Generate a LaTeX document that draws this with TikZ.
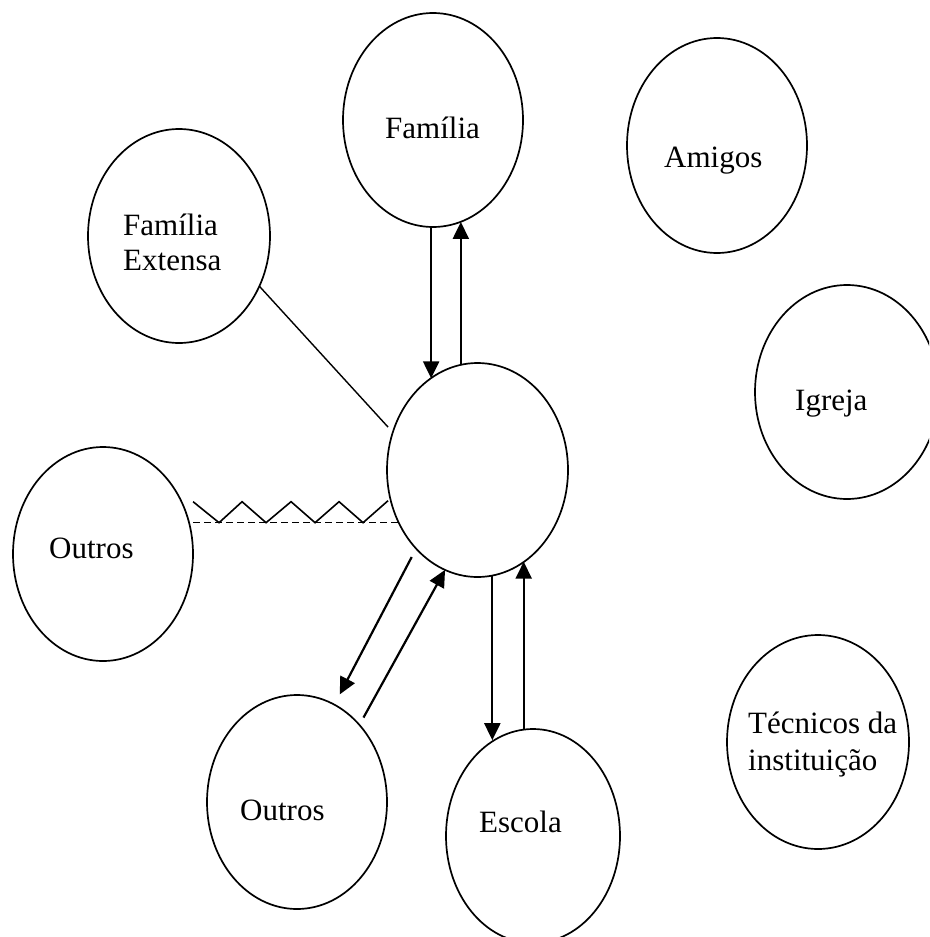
\documentclass[tikz,border=0pt]{standalone}
\usepackage{fontspec}
\setmainfont{Liberation Serif}
\usetikzlibrary{arrows.meta,calc,shapes.geometric}
\tikzset{
  circ/.style={draw, ellipse, line width=1.7pt, inner sep=0pt, outer sep=0pt},
  lbl/.style={anchor=base west, inner sep=0pt, font=\fontsize{31}{36}\selectfont},
  arr/.style={line width=2.2pt, -{Triangle[length=17pt,width=16pt]}},
  plain/.style={line width=1.4pt},
}
\begin{document}
\begin{tikzpicture}[x=1pt,y=-1pt]
\clip (0,0) rectangle (929,937);
\fill[white] (0,0) rectangle (929,937);
% ellipses
\node[circ, minimum width=180pt, minimum height=214pt] (fam) at (433,120) {};
\node[circ, minimum width=180pt, minimum height=215pt] (ami) at (717,145.5) {};
\node[circ, minimum width=182pt, minimum height=214pt] (ext) at (179,236) {};
\node[circ, minimum width=184pt, minimum height=214pt] (igr) at (847,392) {};
\node[circ, minimum width=181pt, minimum height=214pt] (ctr) at (477.5,470) {};
\node[circ, minimum width=180pt, minimum height=214pt] (outL) at (103,554) {};
\node[circ, minimum width=180pt, minimum height=214pt] (outB) at (297,802) {};
\node[circ, minimum width=174pt, minimum height=214pt] (esc) at (533,836) {};
\node[circ, minimum width=182pt, minimum height=214pt] (tec) at (818,742) {};
% labels
\node[lbl] (tfam) at (385,138) {Família};
\node[lbl] (text1) at (123,235) {Família};
\node[lbl] (text2) at (123,270) {Extensa};
\node[lbl] (tami) at (664,167) {Amigos};
\node[lbl] (tigr) at (795,410) {Igreja};
\node[lbl] (toutL) at (49,558) {Outros};
\node[lbl] (toutB) at (240,820) {Outros};
\node[lbl] (tesc) at (479,832) {Escola};
\node[lbl] (ttec1) at (748,733) {Técnicos da};
\node[lbl] (ttec2) at (748,770) {instituição};
% connectors
\draw[arr] (fam.-91.6) -- (fam.-91.6 |- ctr.117.5);
\draw[arr] (ctr.99.5) -- (ctr.99.5 |- fam.-75.2);
\draw[arr] (ctr.-82.2) -- (ctr.-82.2 |- esc.112.8);
\draw[arr] (esc.95.4) -- (esc.95.4 |- ctr.-63.8);
\draw[arr, shorten <=9.5pt, shorten >=11.6pt] (ctr.232.2) -- (outB.69.5);
\draw[arr, shorten <=8.4pt] (outB.51.5) -- (ctr.252.7);
\draw[plain, shorten >=7pt] (ext.-32.5) -- (ctr.156);
% dashed line and zigzag between Outros and centre
\coordinate (zs) at ($(outL.20.4)+(4,0)$);
\draw[plain, dash pattern=on 7pt off 4pt] (zs) -- (zs -| ctr.213.3);
\draw[line width=1.6pt] ($(zs)+(0,-21)$) -- ++(26,21) -- ++(23,-21) -- ++(24,21) -- ++(25,-21)
  -- ++(24,21) -- ++(24,-21) -- ++(24,21) -- ++(25,-22);
\end{tikzpicture}
\end{document}
